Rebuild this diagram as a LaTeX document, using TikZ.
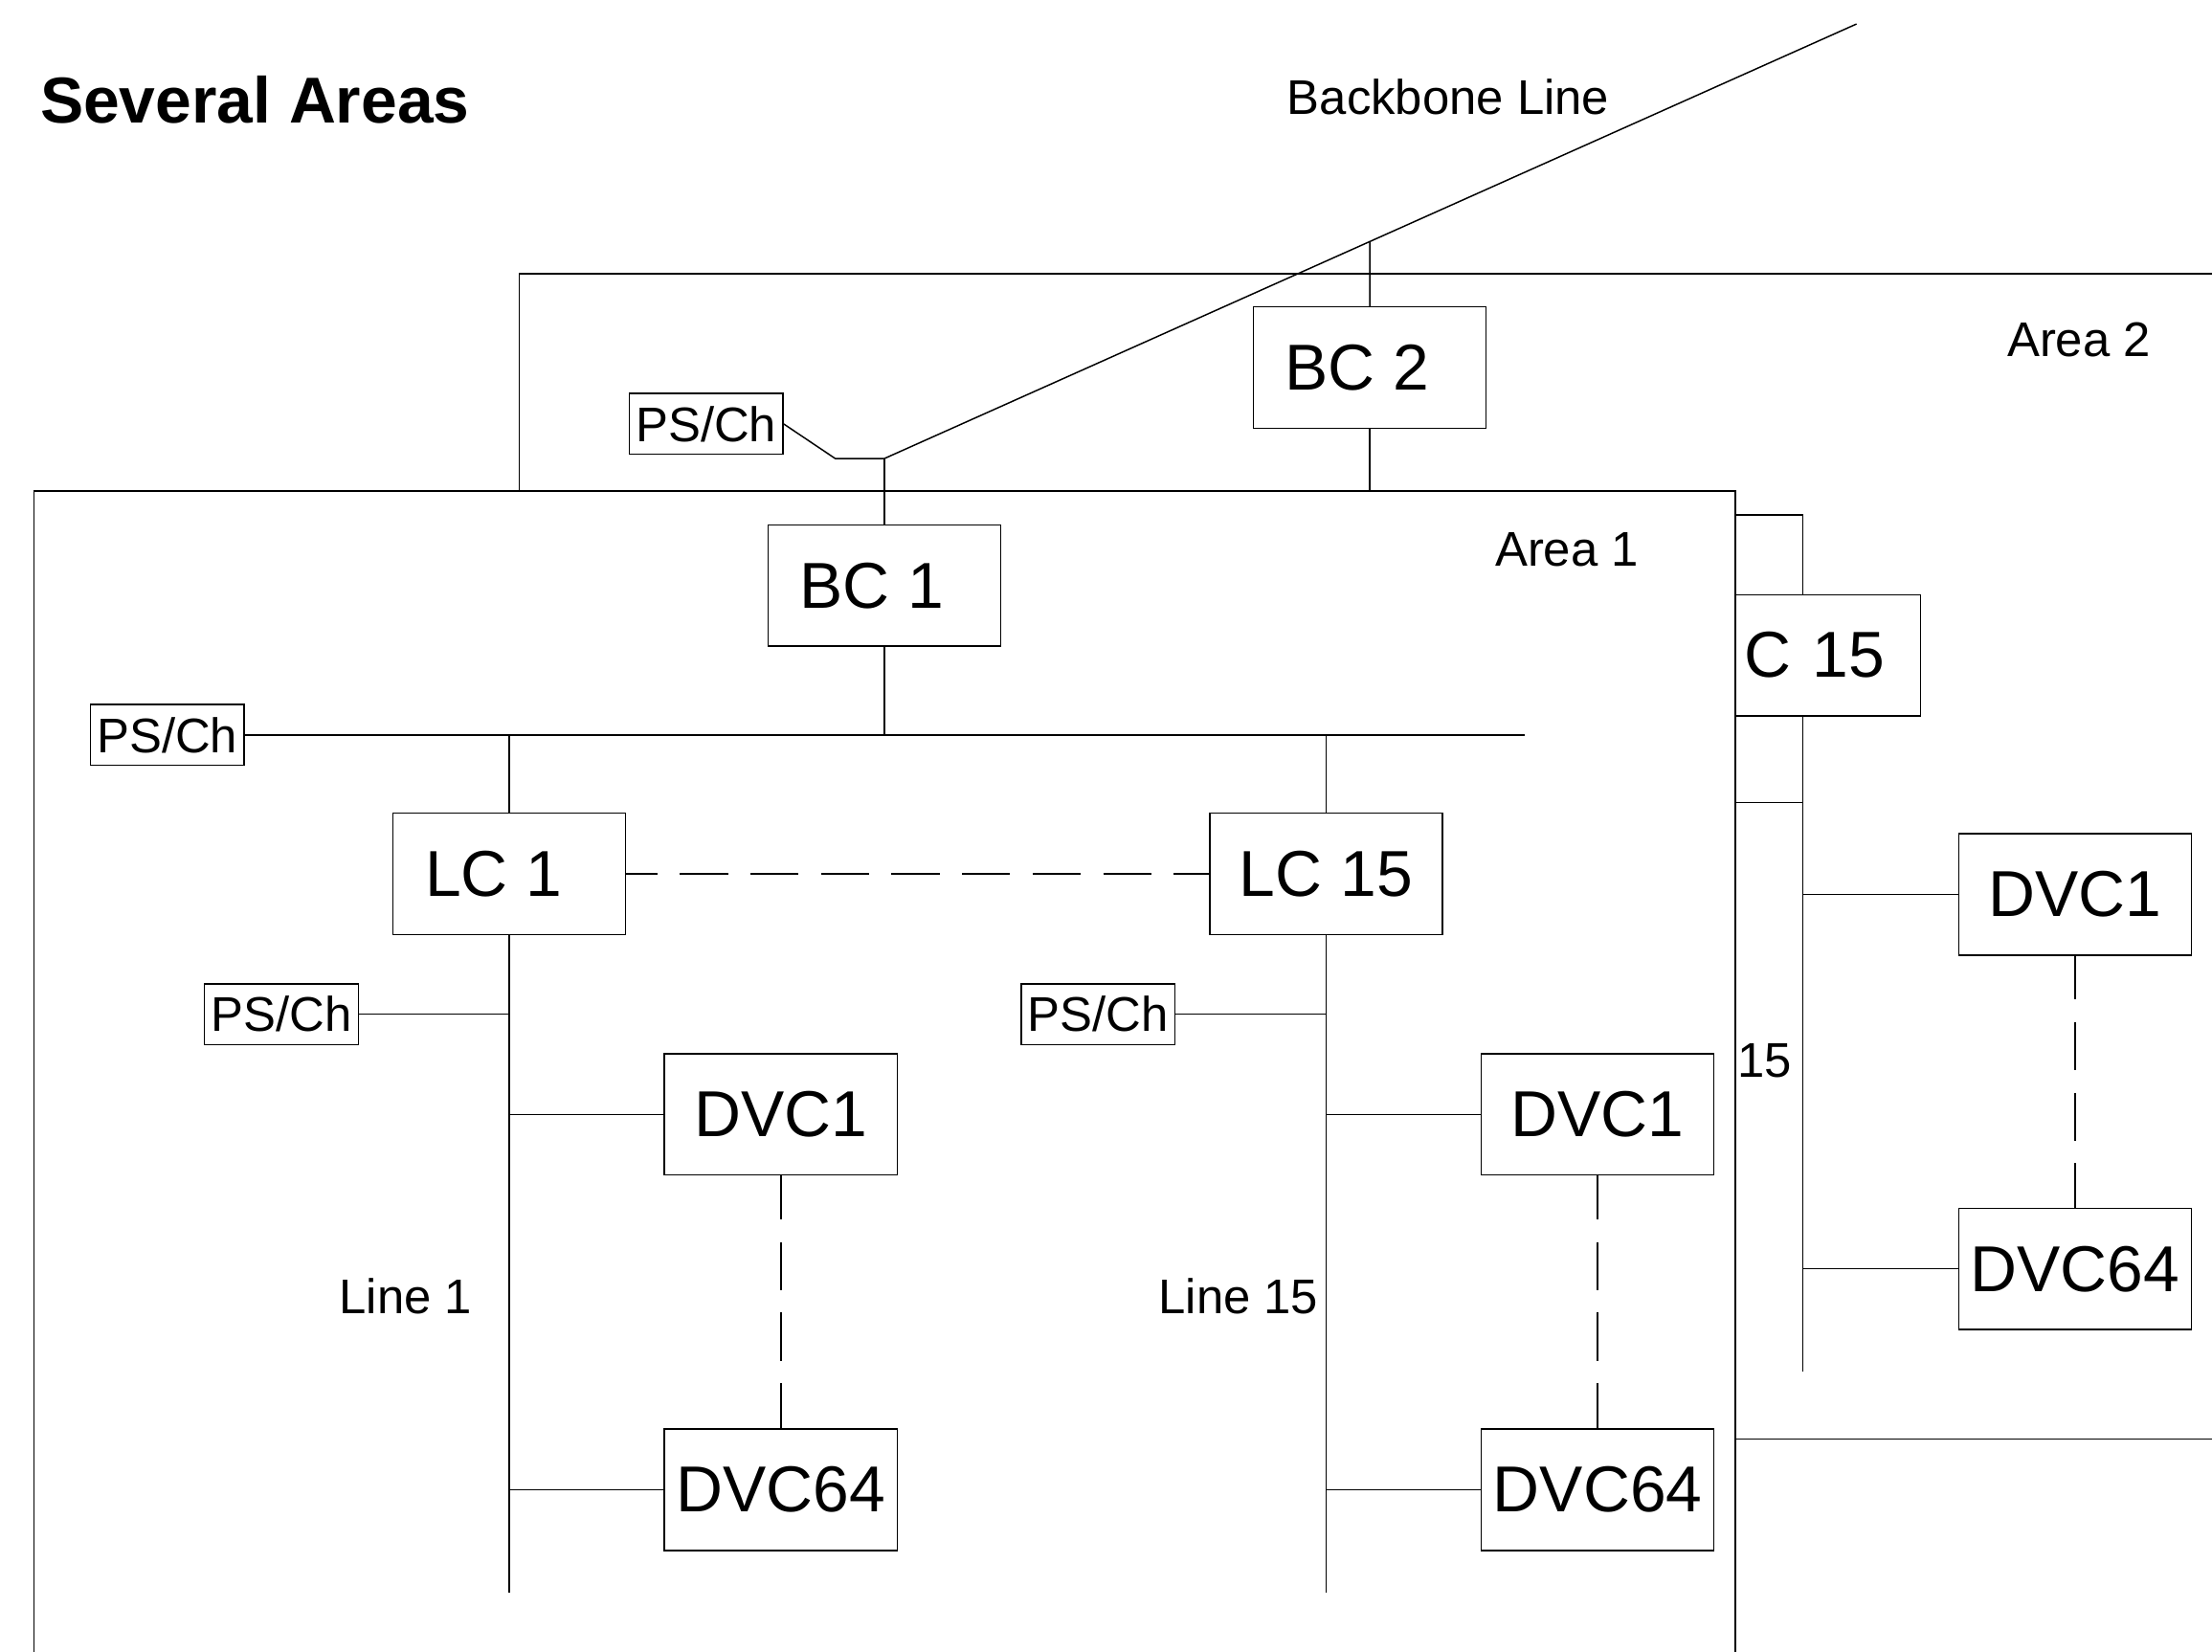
\documentclass[tikz,border=0pt]{standalone}
\usepackage{fontspec}
\setmainfont{Liberation Sans}

\tikzset{
  unit/.style={draw, fill=white, font=\fontsize{46}{52}\selectfont, minimum width=165pt, minimum height=86pt, inner sep=0pt},
  psch/.style={draw, fill=white, font=\fontsize{34.5}{40}\selectfont, minimum width=109pt, minimum height=43pt, inner sep=0pt},
  lbl/.style={font=\fontsize{34.5}{40}\selectfont, inner sep=0pt},
  dashlink/.style={dash pattern=on 34pt off 16pt},
}

\begin{document}
\begin{tikzpicture}[x=1pt,y=-1pt,line width=1pt]
\useasboundingbox (0,0) rectangle (1568,1171);
\clip (0,0) rectangle (1568,1171);

% title and backbone
\node[font=\bfseries\fontsize{46}{52}\selectfont, anchor=base west, inner sep=0pt] (title) at (28,87) {Several Areas};
\node[lbl, anchor=base west] (bblbl) at (912,81) {Backbone Line};
\coordinate (bbtop) at (1316,17);
\coordinate (bbjoin) at (627,325);
\coordinate (psbend) at (592,325);
\draw (bbtop) -- (bbjoin);

% area 2
\coordinate (a1top) at (0,348);
\draw (368,348) -- (368,194) -- (1600,194);
\draw (1230,1020) -- (1600,1020);
\node[lbl, anchor=base east] (a2lbl) at (1525,253) {Area 2};
\node[unit] (bc2) at (971,260.5) {BC 2\kern18pt};
\draw (intersection of bbtop--bbjoin and bc2.north--bc2.south) -- (bc2.north);
\draw (bc2.south) -- (bc2.south |- a1top);
\node[psch] (ps0) at (500.5,300.5) {PS/Ch};
\draw (ps0.east) -- (psbend) -- (bbjoin);

% area 1
\draw[fill=white] (24,348) rectangle (1230,1200);
\node[lbl, anchor=base east] (a1lbl) at (1162,401) {Area 1};
\node[unit] (bc1) at (627,415) {BC 1\kern18pt};
\draw (bbjoin) -- (bc1.north);
\node[psch] (ps1) at (118.5,521) {PS/Ch};
\coordinate (mainend) at (1081,521);
\draw (ps1.east) -- (mainend);
\draw (bc1.south) -- (bc1.south |- mainend);

% line couplers
\node[unit] (lc1) at (361,619.5) {LC 1\kern22pt};
\node[unit] (lc15) at (940,619.5) {LC 15};
\draw (lc1.north |- mainend) -- (lc1.north);
\draw (lc15.north |- mainend) -- (lc15.north);
\draw[dashlink, dash phase=12pt] (lc1.east) -- (lc15.west);

% line 1
\coordinate (l1end) at (361,1129);
\draw (lc1.south) -- (l1end);
\node[psch] (ps11) at (199.5,719) {PS/Ch};
\draw (ps11.east) -- (ps11.east -| l1end);
\node[unit] (dvc11) at (553.5,790) {DVC1};
\node[unit] (dvc164) at (553.5,1056) {DVC64};
\draw (dvc11.west -| l1end) -- (dvc11.west);
\draw (dvc164.west -| l1end) -- (dvc164.west);
\draw[dashlink, dash phase=3pt] (dvc11.south) -- (dvc164.north);
\node[lbl, anchor=east] (l1lbl) at (335,919) {Line 1};

% line 15
\coordinate (l15end) at (940,1129);
\draw (lc15.south) -- (l15end);
\node[psch] (ps115) at (778.5,719) {PS/Ch};
\draw (ps115.east) -- (ps115.east -| l15end);
\node[unit] (dvc151) at (1132.5,790) {DVC1};
\node[unit] (dvc1564) at (1132.5,1056) {DVC64};
\draw (dvc151.west -| l15end) -- (dvc151.west);
\draw (dvc1564.west -| l15end) -- (dvc1564.west);
\draw[dashlink, dash phase=3pt] (dvc151.south) -- (dvc1564.north);
\node[lbl, anchor=east] (l15lbl) at (935,919) {Line 15};

% area 2, line 15 (partly behind area 1)
\coordinate (a2bus) at (1230,365);
\coordinate (a2ps) at (1230,569);
\coordinate (l215top) at (1278,365);
\coordinate (l215end) at (1278,972);
\node[unit, anchor=north west, minimum width=131pt, text width=119pt, align=left, inner xsep=6pt] (lc215) at (1230,421) {C 15};
\draw (a2bus) -- (l215top) -- (l215top |- lc215.north);
\draw (l215end |- lc215.south) -- (l215end);
\draw (a2ps) -- (a2ps -| l215end);
\node[unit] (dvc21) at (1471,634) {DVC1};
\node[unit] (dvc264) at (1471,899.5) {DVC64};
\draw (dvc21.west -| l215end) -- (dvc21.west);
\draw (dvc264.west -| l215end) -- (dvc264.west);
\draw[dashlink, dash phase=3pt] (dvc21.south) -- (dvc264.north);
\node[lbl, anchor=west] (l215lbl) at (1231,752) {15};
\end{tikzpicture}
\end{document}
